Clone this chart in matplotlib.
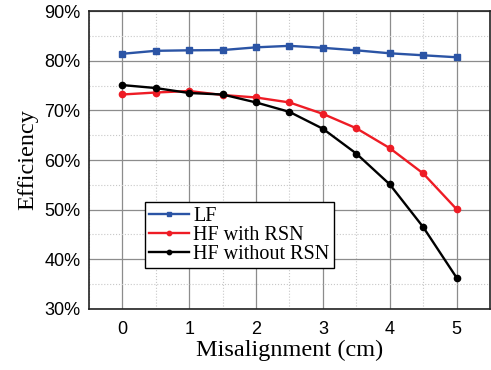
import numpy as np
import matplotlib.pyplot as plt
from matplotlib.ticker import MultipleLocator, FuncFormatter

# Versatz (cm)
misalignment = [0, 0.5, 1, 1.5, 2, 2.5, 3, 3.5, 4, 4.5, 5]
# Wirkungsgrade in %
eff_lf = [81.4, 82.0, 82.1, 82.15, 82.7, 83.0, 82.6, 82.1, 81.5, 81.1, 80.7]
eff_hf_rsn = [73.2, 73.6, 73.9, 73.1, 72.6, 71.6, 69.3, 66.4, 62.4, 57.3, 50.1]
eff_hf_no_rsn = [75.1, 74.5, 73.5, 73.2, 71.6, 69.7, 66.3, 61.3, 55.1, 46.5, 36.3]

serif = ['Liberation Serif', 'DejaVu Serif']
sans = ['Liberation Sans', 'DejaVu Sans']

fig = plt.figure(figsize=(4.91, 3.70), dpi=100)
ax = fig.add_axes([0.181, 0.165, 0.817, 0.805])

ax.plot(misalignment, eff_lf, color='#2b54a5', lw=1.7, marker='s', ms=4.5,
        label='LF')
ax.plot(misalignment, eff_hf_rsn, color='#ee1c25', lw=1.7, marker='o', ms=4.5,
        label='HF with RSN')
ax.plot(misalignment, eff_hf_no_rsn, color='black', lw=1.7, marker='o', ms=4.5,
        label='HF without RSN')

ax.set_xlim(-0.5, 5.5)
ax.set_ylim(30, 90)
ax.xaxis.set_major_locator(MultipleLocator(1))
ax.xaxis.set_minor_locator(MultipleLocator(0.5))
ax.yaxis.set_major_locator(MultipleLocator(10))
ax.yaxis.set_minor_locator(MultipleLocator(5))
ax.yaxis.set_major_formatter(FuncFormatter(lambda v, p: f'{v:.0f}%'))

# Gitter: Hauptlinien durchgezogen, Nebenlinien gepunktet
ax.grid(which='major', color='#8c8c8c', lw=0.9, ls='-')
ax.grid(which='minor', color='#c8c8c8', lw=0.8, ls=':')
ax.set_axisbelow(True)
ax.tick_params(which='both', length=0)
ax.tick_params(axis='y', labelsize=13, pad=6)
ax.tick_params(axis='x', labelsize=13, pad=9)
for lab in ax.get_xticklabels() + ax.get_yticklabels():
    lab.set_family(sans)
for s in ax.spines.values():
    s.set_linewidth(1.2)
    s.set_color('#222222')

ax.set_xlabel('Misalignment (cm)', family=serif, fontsize=17.5, labelpad=1)
ax.set_ylabel('Efficiency', family=serif, fontsize=17.5, labelpad=4)

leg = ax.legend(loc='lower left', bbox_to_anchor=(0.14, 0.138),
                prop={'family': serif, 'size': 14.5}, fancybox=False,
                edgecolor='black', framealpha=1, borderpad=0.2,
                labelspacing=0.0, handlelength=2.0, handletextpad=0.2,
                borderaxespad=0, markerscale=0.7)
leg.get_frame().set_linewidth(1.0)

fig.savefig('out.png', dpi=100)
